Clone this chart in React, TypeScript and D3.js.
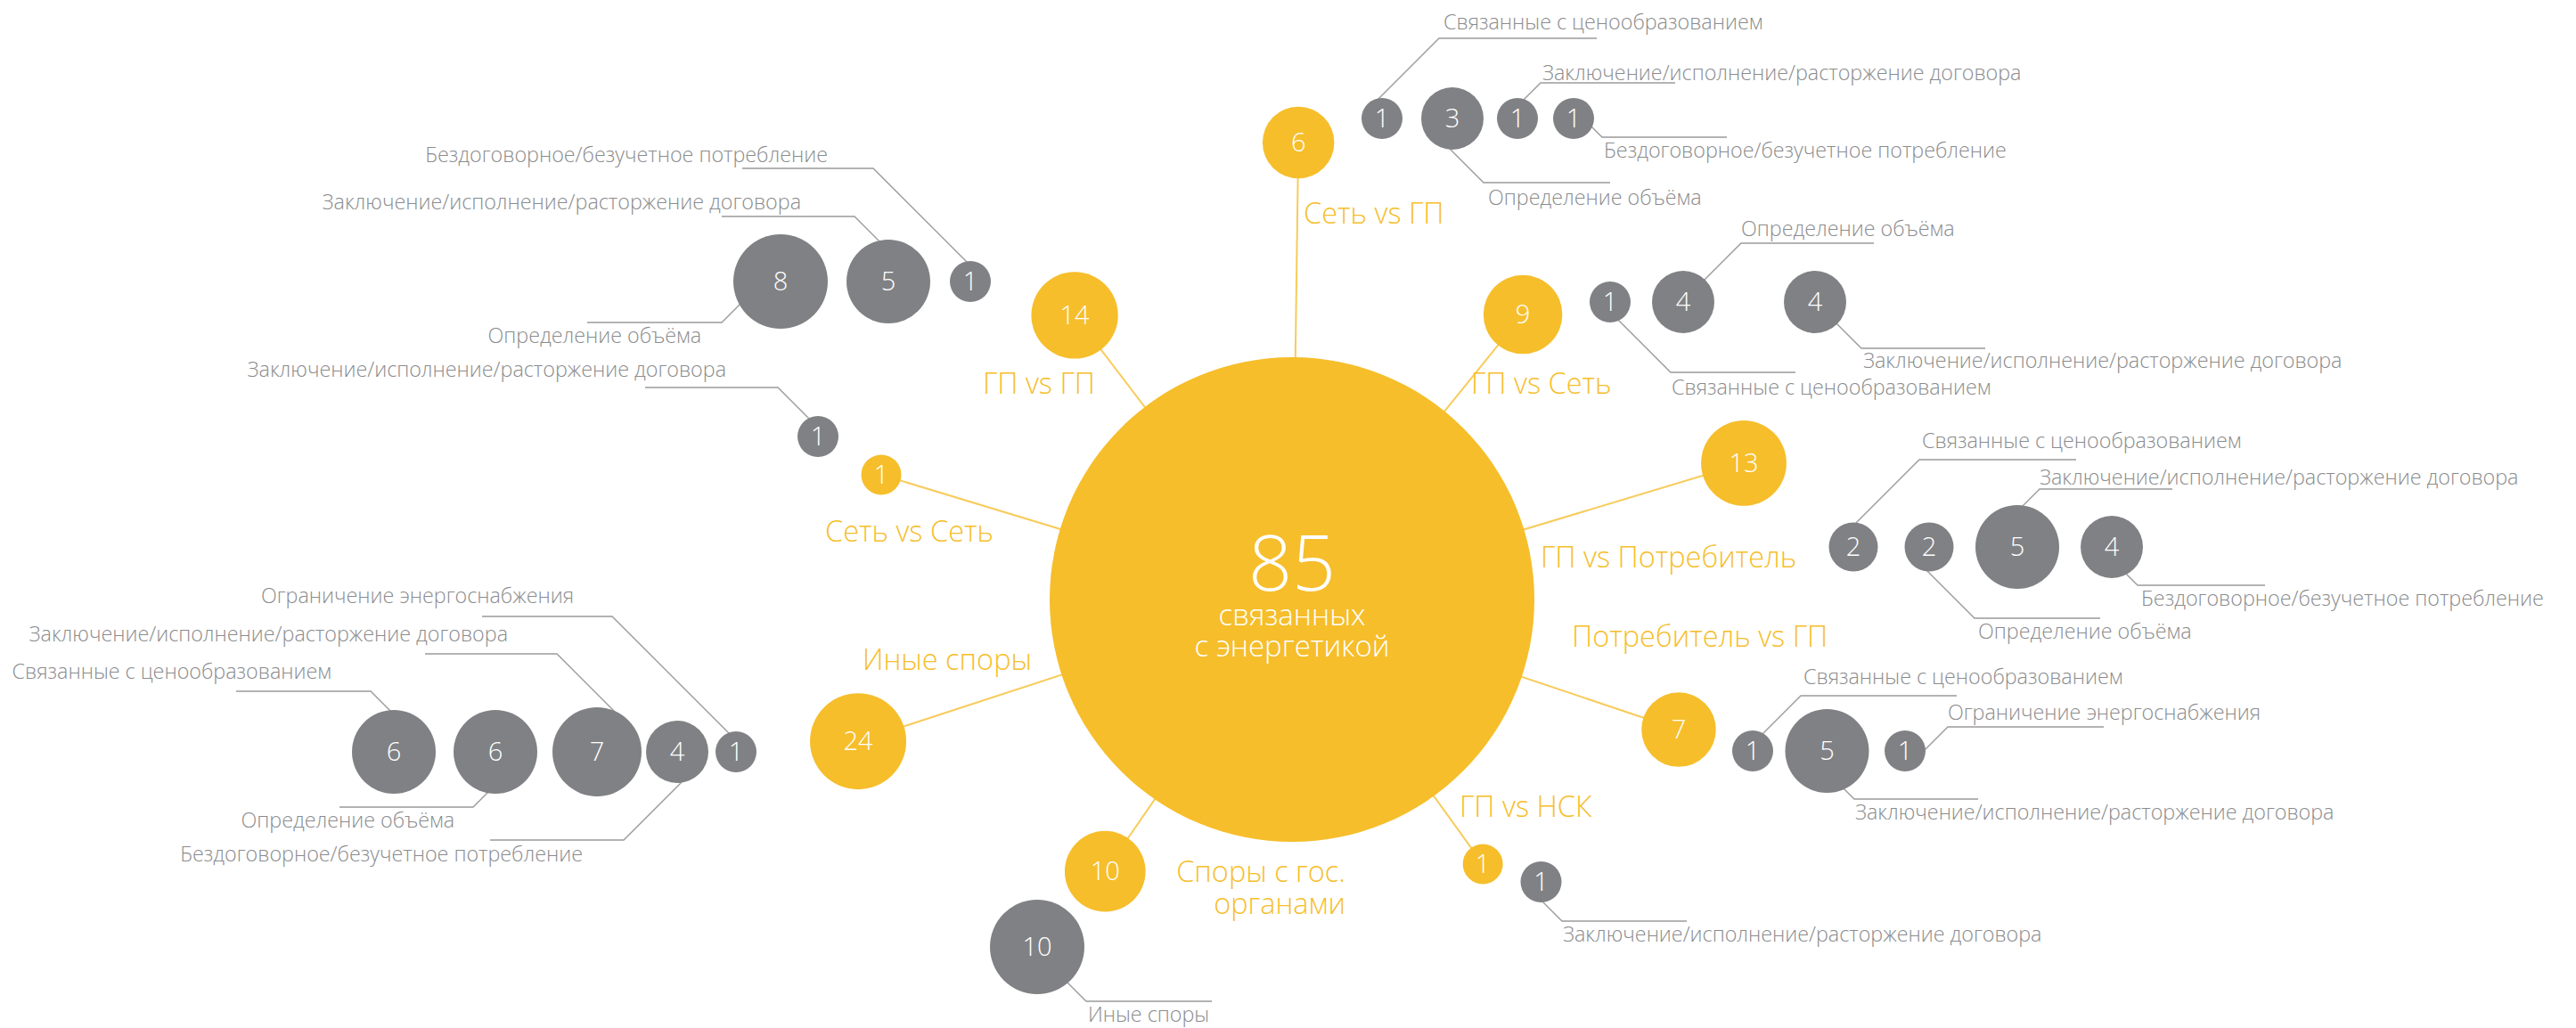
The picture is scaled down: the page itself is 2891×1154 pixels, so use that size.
import React from "react";
import * as d3 from "d3";

// ---- data ----
const total = 85;
const centerCaption = ["связанных", "с энергетикой"];

const categories = [
  "Сеть vs ГП",
  "ГП vs ГП",
  "ГП vs Сеть",
  "ГП vs Потребитель",
  "Сеть vs Сеть",
  "Иные споры",
  "Потребитель vs ГП",
  "ГП vs НСК",
  "Споры с гос. органами",
];
const categoryLabelLines = [
  ["Сеть vs ГП"],
  ["ГП vs ГП"],
  ["ГП vs Сеть"],
  ["ГП vs Потребитель"],
  ["Сеть vs Сеть"],
  ["Иные споры"],
  ["Потребитель vs ГП"],
  ["ГП vs НСК"],
  ["Споры с гос.", "органами"],
];
const categoryValues = [6, 14, 9, 13, 1, 24, 7, 1, 10];

const PRICE = "Связанные с ценообразованием";
const VOLUME = "Определение объёма";
const CONTRACT = "Заключение/исполнение/расторжение договора";
const NOCONTRACT = "Бездоговорное/безучетное потребление";
const LIMIT = "Ограничение энергоснабжения";
const OTHER = "Иные споры";

const subNames = [
  [PRICE, VOLUME, CONTRACT, NOCONTRACT],
  [VOLUME, CONTRACT, NOCONTRACT],
  [PRICE, VOLUME, CONTRACT],
  [PRICE, VOLUME, CONTRACT, NOCONTRACT],
  [CONTRACT],
  [PRICE, VOLUME, CONTRACT, NOCONTRACT, LIMIT],
  [PRICE, CONTRACT, LIMIT],
  [CONTRACT],
  [OTHER],
];
const subValues = [
  [1, 3, 1, 1],
  [8, 5, 1],
  [1, 4, 4],
  [2, 2, 5, 4],
  [1],
  [6, 6, 7, 4, 1],
  [1, 5, 1],
  [1],
  [10],
];

// ---- layout ----
const W = 2891, H = 1154;
const CX = 1450, CY = 673, R0 = 272;

const YELLOW = "#F6BE2B";
const YELLOW_LINE = "#F8CB5B";
const GRAY = "#808184";
const TEXT_GRAY = "#8a8b8d";
const LINE_GRAY = "#9b9b9b";
const FONT = "'Open Sans', 'Noto Sans', sans-serif";

// angle (deg, clockwise from north), distance from centre, label anchor
const hubLayout = [
  { angle: 0.8, dist: 513, lx: 1463, ly: 251, anchor: "start" },
  { angle: -37.4, dist: 401.6, lx: 1229, ly: 442, anchor: "end" },
  { angle: 39.0, dist: 411.7, lx: 1651, ly: 442, anchor: "start" },
  { angle: 73.2, dist: 529.6, lx: 1729, ly: 637, anchor: "start" },
  { angle: -73.1, dist: 481.8, lx: 1115, ly: 608, anchor: "end" },
  { angle: -108.1, dist: 512.3, lx: 1158, ly: 752, anchor: "end" },
  { angle: 108.6, dist: 457.9, lx: 1764, ly: 726, anchor: "start" },
  { angle: 144.2, dist: 366.1, lx: 1638, ly: 917, anchor: "start" },
  { angle: 214.5, dist: 370.3, lx: 1510, ly: 990, anchor: "end" },
];

// first circle centre, row y, gaps between neighbours
const groupLayout = [
  { x0: 1551, y: 133, gaps: [21, 15, 17] },
  { x0: 876, y: 316, gaps: [21, 22] },
  { x0: 1807, y: 339, gaps: [24, 78] },
  { x0: 2080, y: 614, gaps: [30, 24.5, 24] },
  { x0: 918, y: 490, gaps: [] },
  { x0: 442, y: 844, gaps: [20, 17, 5, 8] },
  { x0: 1967, y: 843, gaps: [13.5, 17.5] },
  { x0: 1729.5, y: 990, gaps: [] },
  { x0: 1164, y: 1063, gaps: [] },
];

// leader: elbow (ex, ey), end of horizontal (lx), text position
const leaderLayout = [
  [
    { ex: 1615, ey: 43, lx: 1792, tx: 1620, ty: 33, a: "start" },
    { ex: 1665, ey: 205, lx: 1807, tx: 1670, ty: 230, a: "start" },
    { ex: 1729, ey: 93, lx: 1880, tx: 1731, ty: 90, a: "start" },
    { ex: 1798, ey: 154, lx: 1938, tx: 1800, ty: 177, a: "start" },
  ],
  [
    { ex: 810, ey: 362, lx: 659, tx: 787, ty: 385, a: "end" },
    { ex: 959, ey: 243, lx: 810, tx: 899, ty: 235, a: "end" },
    { ex: 980, ey: 189, lx: 833, tx: 929, ty: 182, a: "end" },
  ],
  [
    { ex: 1875, ey: 418, lx: 2015, tx: 1876, ty: 443, a: "start" },
    { ex: 1954, ey: 273, lx: 2103, tx: 1954, ty: 265, a: "start" },
    { ex: 2089, ey: 391, lx: 2228, tx: 2091, ty: 413, a: "start" },
  ],
  [
    { ex: 2154, ey: 516, lx: 2330, tx: 2157, ty: 503, a: "start" },
    { ex: 2216, ey: 694, lx: 2357, tx: 2220, ty: 717, a: "start" },
    { ex: 2289, ey: 549, lx: 2438, tx: 2289, ty: 544, a: "start" },
    { ex: 2399, ey: 657, lx: 2542, tx: 2403, ty: 680, a: "start" },
  ],
  [{ ex: 873, ey: 435, lx: 724, tx: 815, ty: 423, a: "end" }],
  [
    { ex: 416, ey: 776, lx: 265, tx: 372, ty: 762, a: "end" },
    { ex: 531, ey: 906, lx: 381, tx: 510, ty: 929, a: "end" },
    { ex: 625, ey: 734, lx: 477, tx: 570, ty: 720, a: "end" },
    { ex: 700, ey: 943, lx: 550, tx: 654, ty: 967, a: "end" },
    { ex: 687, ey: 692, lx: 541, tx: 644, ty: 677, a: "end" },
  ],
  [
    { ex: 2021, ey: 781, lx: 2196, tx: 2024, ty: 768, a: "start" },
    { ex: 2081, ey: 897, lx: 2220, tx: 2082, ty: 920, a: "start" },
    { ex: 2186, ey: 816, lx: 2361, tx: 2186, ty: 808, a: "start" },
  ],
  [{ ex: 1753, ey: 1034, lx: 1893, tx: 1754, ty: 1057, a: "start" }],
  [{ ex: 1219, ey: 1124, lx: 1360, tx: 1221, ty: 1147, a: "start" }],
];

// radius scales (hand-sized bubbles in the original)
const rHub = d3.scaleLog().domain([1, 24]).range([22.5, 54]);
const rSub = d3
  .scaleLinear()
  .domain([1, 2, 3, 4, 5, 6, 8, 10])
  .range([23, 27.5, 35, 35, 47, 47, 53, 53])
  .clamp(true);

const line = d3.line();

function packRow(values, lay) {
  let x = lay.x0;
  return values.map((v, i) => {
    const r = rSub(v);
    if (i > 0) x += rSub(values[i - 1]) + lay.gaps[i - 1] + r;
    return { cx: x, cy: lay.y, r };
  });
}

// horizontal tick + 45deg diagonal running into the bubble
function leaderPath(c, L) {
  const ux = Math.sign(c.cx - L.ex) * Math.SQRT1_2;
  const uy = Math.sign(c.cy - L.ey) * Math.SQRT1_2;
  const t = (c.cx - L.ex) * ux + (c.cy - L.ey) * uy;
  return line([
    [L.lx, L.ey],
    [L.ex, L.ey],
    [L.ex + ux * t, L.ey + uy * t],
  ]);
}

export default function App() {
  const hubs = categories.map((name, i) => {
    const lay = hubLayout[i];
    const [dx, dy] = d3.pointRadial((lay.angle * Math.PI) / 180, lay.dist);
    return { name, value: categoryValues[i], cx: CX + dx, cy: CY + dy, r: rHub(categoryValues[i]), lay, lines: categoryLabelLines[i] };
  });

  const groups = subValues.map((vals, gi) => {
    const pos = packRow(vals, groupLayout[gi]);
    return vals.map((v, j) => ({ name: subNames[gi][j], value: v, ...pos[j], L: leaderLayout[gi][j] }));
  });
  const subs = groups.flat();

  return (
    <svg
      width={W}
      height={H}
      style={{ position: "absolute", left: 0, top: 0, background: "#fff" }}
      fontFamily={FONT}
    >
      {/* spokes */}
      <g stroke={YELLOW_LINE} strokeWidth={2} fill="none">
        {hubs.map((h, i) => (
          <line key={i} x1={CX} y1={CY} x2={h.cx} y2={h.cy} />
        ))}
      </g>

      {/* leaders */}
      <g stroke={LINE_GRAY} strokeWidth={1.4} fill="none">
        {subs.map((s, i) => (
          <path key={i} d={leaderPath(s, s.L)} />
        ))}
      </g>

      {/* centre */}
      <circle cx={CX} cy={CY} r={R0} fill={YELLOW} />
      <g fill="#fff" textAnchor="middle" fontWeight={300}>
        <text x={CX} y={CY - 10} fontSize={86}>{total}</text>
        <text x={CX} y={CY + 29} fontSize={33}>{centerCaption[0]}</text>
        <text x={CX} y={CY + 64} fontSize={33}>{centerCaption[1]}</text>
      </g>

      {/* category bubbles */}
      {hubs.map((h, i) => (
        <g key={i}>
          <circle cx={h.cx} cy={h.cy} r={h.r} fill={YELLOW} />
          <text x={h.cx} y={h.cy} dy="0.35em" textAnchor="middle" fill="#fff" fontSize={29} fontWeight={300}>
            {h.value}
          </text>
          <text textAnchor={h.lay.anchor} fill={YELLOW} fontSize={32.5} fontWeight={300}>
            {h.lines.map((t, k) => (
              <tspan key={k} x={h.lay.lx} y={h.lay.ly + k * 36}>{t}</tspan>
            ))}
          </text>
        </g>
      ))}

      {/* sub bubbles */}
      {subs.map((s, i) => (
        <g key={i}>
          <circle cx={s.cx} cy={s.cy} r={s.r} fill={GRAY} />
          <text x={s.cx} y={s.cy} dy="0.35em" textAnchor="middle" fill="#fff" fontSize={29} fontWeight={300}>
            {s.value}
          </text>
          <text x={s.L.tx} y={s.L.ty} textAnchor={s.L.a} fill={TEXT_GRAY} fontSize={23.3} fontWeight={300}>
            {s.name}
          </text>
        </g>
      ))}
    </svg>
  );
}
